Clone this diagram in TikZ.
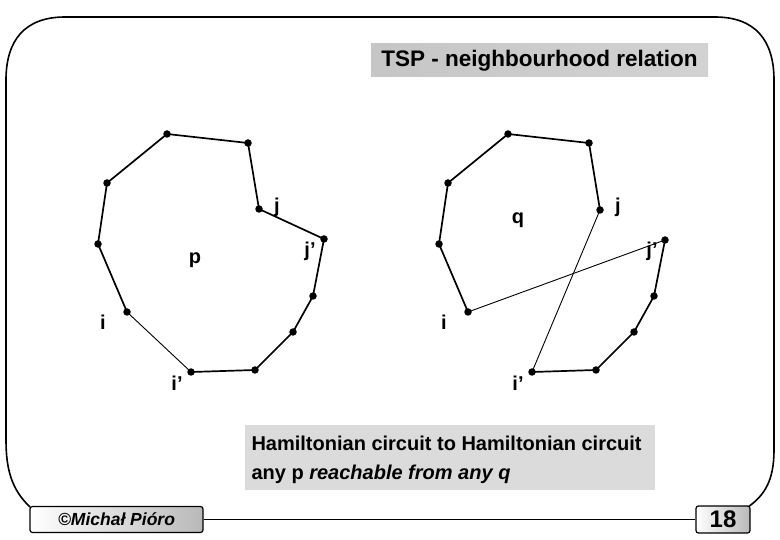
\documentclass[tikz,border=0pt]{standalone}
\usepackage{fontspec}
\setmainfont{Liberation Sans}
\begin{document}
\begin{tikzpicture}[x=1pt,y=-1pt,
  dot/.style={circle,fill=black,inner sep=0pt,minimum size=7.5pt},
  thick edge/.style={line width=1.7pt},
  thin edge/.style={line width=0.9pt},
  lbl/.style={font=\bfseries\fontsize{20}{20}\selectfont,inner sep=0pt},
  footbox/.style={draw=black,line width=1.2pt,rounded corners=2.5pt,left color=white,right color=gray!55,inner sep=0pt}]
\useasboundingbox (0,0) rectangle (780,540);
% frame
\draw[line width=1.6pt] (30,507) .. controls (12,490) and (6,470) .. (6,440)
  -- (6,80) .. controls (6,40) and (25,17) .. (65,17)
  -- (715,17) .. controls (755,17) and (774,40) .. (774,80)
  -- (774,450) .. controls (774,480) and (765,495) .. (748,507);
% footer
\node[footbox,minimum width=173pt,minimum height=26pt] (fl) at (116.5,519.5) {};
\node[footbox,minimum width=54pt,minimum height=27pt] (fr) at (723,519.5) {};
\node[font=\bfseries\itshape\fontsize{17.5}{17.5}\selectfont] at (fl) {©Michał Pióro};
\node[font=\bfseries\fontsize{24}{24}\selectfont] at (fr) {18};
\draw[line width=1.3pt] (fl.east) -- (fr.west);
% title
\node[minimum width=337pt,minimum height=33pt,inner sep=0pt,
  left color=gray!45,middle color=gray!8,right color=gray!35] (title) at (539.5,60.5) {};
\node[font=\bfseries\fontsize{22.5}{22.5}\selectfont] at (title) {TSP - neighbourhood relation};
% bottom text box
\node[fill=gray!28,minimum width=410pt,minimum height=65pt,inner sep=0pt] (tb) at (450,457.5) {};
\node[anchor=west,font=\bfseries\fontsize{20}{20}\selectfont] at (248,443) {Hamiltonian circuit to Hamiltonian circuit};
\node[anchor=west,font=\fontsize{20}{20}\selectfont] at (248,474) {\textbf{any p} \textbf{\textit{reachable from any q}}};
% left circuit
\node[dot] (a1) at (167,134) {};
\node[dot] (a2) at (248,143) {};
\node[dot] (a3) at (259,209) {};
\node[dot] (a4) at (324,239) {};
\node[dot] (a5) at (313,296) {};
\node[dot] (a6) at (293,332) {};
\node[dot] (a7) at (255,370) {};
\node[dot] (a8) at (191,372) {};
\node[dot] (a9) at (127,312) {};
\node[dot] (a10) at (98,244) {};
\node[dot] (a11) at (107,183) {};
\draw[thick edge] (a9.center) -- (a10.center) -- (a11.center) -- (a1.center) -- (a2.center) -- (a3.center) -- (a4.center) -- (a5.center) -- (a6.center) -- (a7.center) -- (a8.center);
\draw[thin edge] (a8.center) -- (a9.center);
\node[lbl] at (277,207) {j};
\node[lbl] at (310,251) {j’};
\node[lbl] at (195,260) {p};
\node[lbl] at (103,322) {i};
\node[lbl] at (177,383) {i’};
% right circuit
\node[dot] (b1) at (508,134) {};
\node[dot] (b2) at (589,143) {};
\node[dot] (b3) at (600,210) {};
\node[dot] (b4) at (665,240) {};
\node[dot] (b5) at (654,296) {};
\node[dot] (b6) at (634,332) {};
\node[dot] (b7) at (596,370) {};
\node[dot] (b8) at (532,372) {};
\node[dot] (b9) at (468,312) {};
\node[dot] (b10) at (439,244) {};
\node[dot] (b11) at (448,183) {};
\draw[thick edge] (b9.center) -- (b10.center) -- (b11.center) -- (b1.center) -- (b2.center) -- (b3.center);
\draw[thick edge] (b8.center) -- (b7.center) -- (b6.center) -- (b5.center) -- (b4.center);
\draw[thin edge] (b3.center) -- (b8.center);
\draw[thin edge] (b4.center) -- (b9.center);
\node[lbl] at (618,207) {j};
\node[lbl] at (518,220) {q};
\node[lbl] at (652,251) {j’};
\node[lbl] at (444,322) {i};
\node[lbl] at (518,383) {i’};
\end{tikzpicture}
\end{document}
